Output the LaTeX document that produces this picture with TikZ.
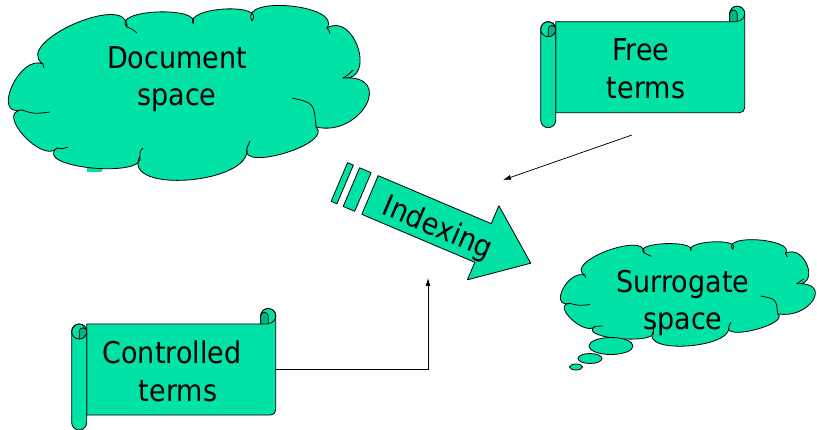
\documentclass[tikz,border=0pt]{standalone}
\usepackage{fontspec}
\setmainfont{DejaVu Sans Condensed}
\usetikzlibrary{arrows.meta}

\definecolor{sheet}{RGB}{0,226,166}
\definecolor{curlshade}{RGB}{0,182,134}

\tikzset{
  shape outline/.style={draw=black, line width=0.8pt, fill=sheet, line join=round},
  thin outline/.style={draw=black, line width=0.8pt},
  curl part/.style={draw=black, line width=0.8pt, fill=curlshade, line join=round},
  label text/.style={font=\fontsize{30}{37}\selectfont, inner sep=0pt, anchor=base},
  connector/.style={draw=black, line width=0.75pt, -{Latex[length=8pt,width=5pt]}},
}

% cloud outline (drawn in a 354 x 174 frame), with the short inner arcs
\newcommand\cloudbody{%
  \path[shape outline] (43,64)
    .. controls +(-31.5,-21.3) and +(2.1,-36.1) .. (127,27)
    .. controls +(-17.2,-17.4) and +(9.2,-18.6) .. (193,24)
    .. controls +(-8.5,-17.4) and +(15.1,-18.6) .. (252,21)
    .. controls +(-14.3,-26.1) and +(15.7,-23.3) .. (327,28)
    .. controls +(27.5,-16.7) and +(33.9,3.3) .. (343,78)
    .. controls +(52.7,-4) and +(44.7,10.6) .. (316,127)
    .. controls +(18.5,16.5) and +(-9.1,24.9) .. (247,148)
    .. controls +(5.5,36.3) and +(-20.1,38.3) .. (140,156)
    .. controls +(7.9,22.9) and +(-25.3,19.7) .. (57,148)
    .. controls +(-13.7,16.9) and +(-27.7,1.7) .. (22,110)
    .. controls +(-31.5,7.9) and +(-23.1,-10.5) .. (43,64) -- cycle;
  \path[thin outline]
    (22,110) .. controls (34,114) .. (50,112)
    (57,148) .. controls (62,149) .. (68,147)
    (140,156) .. controls (140,151) .. (143,148)
    (247,148) .. controls (248,144) .. (250,141)
    (316,127) .. controls (314,103) .. (292,98)
    (343,78) .. controls (348,75) .. (353,70)
    (327,28) .. controls (329,30) .. (330,34)
    (127,27) .. controls (132,29) .. (137,33)
    (43,64) -- (44,68);
}

% scroll banner: origin at the top left of the sheet, rolls included
\newcommand\scrollbody[1]{%
  \path[shape outline] (15,0) -- (189,0) -- (189,-8)
    arc[start angle=180, end angle=0, radius=7.5pt] -- (204,86)
    arc[start angle=0, end angle=-90, radius=5pt] -- (15,91) -- cycle;
  \node[inner sep=0pt, minimum width=189pt, minimum height=91pt,
        anchor=north west] (#1) at (15,0) {};
  % right roll
  \path[shape outline] (196.5,-8) circle[radius=7.5pt];
  \path[curl part] (189,0) -- (189,-8)
    arc[start angle=180, end angle=0, radius=3.75pt] -- (196.5,0) -- cycle;
  % left roll
  \path[shape outline] (0,98.5) -- (0,7.5)
    arc[start angle=180, end angle=0, radius=7.5pt] -- (15,98.5)
    arc[start angle=0, end angle=-180, radius=7.5pt] -- cycle;
  \path[thin outline] (7.5,7.5) circle[radius=7.5pt];
  \path[curl part] (7.5,15) -- (7.5,7.5)
    arc[start angle=180, end angle=0, radius=3.75pt]
    arc[start angle=0, end angle=-90, radius=7.5pt] -- cycle;
}

\begin{document}
\begin{tikzpicture}[x=1pt, y=-1pt]
\useasboundingbox (0,0) rectangle (817,430);
\fill[white] (0,0) rectangle (817,430);

% Document space
\fill[sheet] (87,160) rectangle (102,172);
\begin{scope}
  \cloudbody
\end{scope}
\node[label text] (docA) at (177,68.5) {Document};
\node[label text] (docB) at (177,105.5) {space};

% Surrogate space
\begin{scope}[shift={(563,240)}, xscale=0.706, yscale=0.609, shift={(-12,-6)}]
  \cloudbody
\end{scope}
\path[shape outline] (611,346) ellipse[x radius=22pt, y radius=8.5pt];
\path[shape outline] (590,358.5) ellipse[x radius=12pt, y radius=5pt];
\path[shape outline] (576,367) ellipse[x radius=6.5pt, y radius=3pt];
\node[label text] (surA) at (683,292.5) {Surrogate};
\node[label text] (surB) at (683,330) {space};

% Free terms
\begin{scope}[shift={(540.7,21.7)}]
  \scrollbody{freeScroll}
\end{scope}
\node[label text] (freeA) at (641,61) {Free};
\node[label text] (freeB) at (646,98.5) {terms};

% Controlled terms
\begin{scope}[shift={(71.7,324)}]
  \scrollbody{ctrlScroll}
\end{scope}
\node[label text] (ctrlA) at (172,363.5) {Controlled};
\node[label text] (ctrlB) at (178,401) {terms};

% Indexing arrow
\begin{scope}[shift={(370,195)}, rotate=-23]
  \path[shape outline] (-33.3,-21) -- (-27,-21) -- (-27,21) -- (-33.3,21) -- cycle;
  \path[shape outline] (-20.2,-21) -- (-7.7,-21) -- (-7.7,21) -- (-20.2,21) -- cycle;
  \path[shape outline] (0,-21) -- (122.8,-21) -- (122.8,-40.5) -- (174.6,0)
    -- (122.8,40) -- (122.8,21) -- (0,21) -- cycle;
  \node[label text, anchor=base west, rotate=-23] (idx) at (17,13) {Indexing};
\end{scope}

% connectors
\coordinate (freeTail) at (632,135);
\coordinate (freeHead) at (503,180);
\draw[connector] (freeTail) -- (freeHead);
\coordinate (ctrlHead) at (428,278);
\draw[connector] (ctrlScroll.east) -| (ctrlHead);
\end{tikzpicture}
\end{document}
